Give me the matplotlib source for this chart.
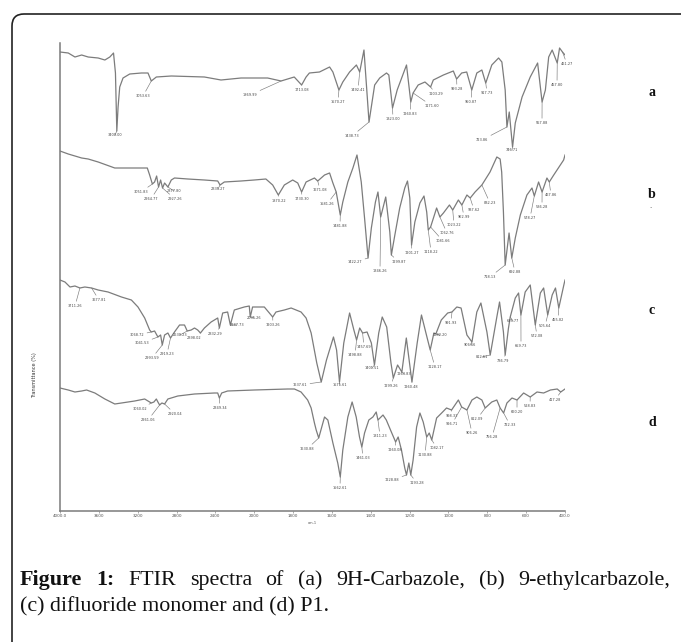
import numpy as np
import matplotlib
matplotlib.use('Agg')
import matplotlib.pyplot as plt
from matplotlib.patches import FancyBboxPatch

# FTIR spectra, wavenumber (cm-1) and transmittance (arbitrary units, stacked)
wn_a = [4000, 3915, 3846, 3777, 3710, 3607, 3538, 3487, 3449, 3429, 3415, 3402, 3385, 3351, 3282, 3162,
        3094, 3060, 3008, 2854, 2513, 2342, 2136, 1931, 1862, 1794, 1756, 1733, 1716, 1664, 1612, 1595,
        1564, 1544, 1509, 1474, 1457, 1435, 1409, 1380, 1354, 1319, 1307, 1288, 1264, 1216, 1194, 1182,
        1156, 1121, 1092, 1078, 1026, 975, 958, 932, 906, 880, 854, 828, 808, 777, 742, 725, 708, 699,
        687, 670, 656, 621, 579, 541, 518, 501, 484, 466, 440, 428, 413, 400]
t_a = [459, 458, 454, 456, 454, 453, 451, 454, 458, 438, 380, 404, 424, 433, 437, 438,
       438, 430, 434, 435, 434, 431, 433, 433, 430, 434, 426, 434, 438, 439, 444, 439,
       421, 429, 439, 446, 439, 461, 389, 426, 433, 438, 436, 403, 421, 446, 409, 418,
       426, 429, 424, 431, 436, 440, 432, 438, 439, 421, 438, 441, 428, 446, 453, 449, 421, 384,
       399, 364, 388, 414, 434, 448, 409, 421, 454, 461, 448, 463, 459, 456]

wn_b = [4000, 3915, 3777, 3710, 3607, 3436, 3367, 3231, 3101, 3077, 3049, 3026, 3005, 2985, 2964, 2944,
        2923, 2889, 2854, 2821, 2684, 2513, 2376, 2352, 2308, 2136, 2000, 1940, 1905, 1876, 1845, 1802,
        1776, 1756, 1733, 1690, 1673, 1638, 1612, 1595, 1578, 1557, 1544, 1518, 1492, 1471, 1449, 1432,
        1414, 1397, 1376, 1363, 1349, 1323, 1302, 1294, 1276, 1251, 1225, 1211, 1199, 1190, 1173, 1147,
        1126, 1112, 1104, 1092, 1061, 1044, 1026, 995, 978, 949, 931, 905, 888, 863, 828, 786, 751, 734,
        726, 717, 708, 688, 674, 656, 630, 596, 570, 558, 536, 518, 493, 481, 458, 407, 400]
t_b = [360, 357, 353, 352, 349, 343, 343, 343, 343, 336, 327, 329, 335, 324, 331, 323,
       328, 324, 331, 333, 332, 331, 330, 326, 329, 330, 331, 332, 326, 316, 326, 331,
       328, 319, 329, 333, 330, 336, 338, 328, 319, 296, 309, 329, 343, 356, 329, 293,
       253, 283, 309, 319, 294, 314, 279, 256, 276, 303, 323, 330, 313, 266, 289, 308,
       315, 299, 281, 284, 303, 294, 298, 306, 301, 311, 306, 316, 313, 319, 326, 339, 354, 352,
       339, 299, 246, 278, 253, 273, 296, 316, 323, 315, 329, 319, 333, 329, 336, 351, 356]

wn_c = [4000, 3949, 3897, 3846, 3795, 3744, 3675, 3607, 3505, 3367, 3265, 3197, 3128, 3077, 3060, 3026,
        2992, 2964, 2947, 2923, 2889, 2862, 2821, 2769, 2718, 2690, 2649, 2615, 2582, 2554, 2513, 2444,
        2376, 2359, 2325, 2274, 2246, 2205, 2103, 2051, 2041, 2017, 1948, 1905, 1888, 1845, 1810, 1759,
        1733, 1707, 1678, 1655, 1628, 1592, 1576, 1561, 1539, 1509, 1487, 1473, 1457, 1442, 1419, 1397,
        1381, 1359, 1341, 1318, 1296, 1284, 1262, 1240, 1217, 1188, 1161, 1139, 1116, 1094, 1075, 1065,
        1037, 1004, 982, 957, 935, 905, 879, 854, 833, 802, 785, 751, 737, 717, 708, 691, 682, 656, 639,
        627, 605, 579, 553, 527, 510, 489, 466, 449, 432, 406, 400]
t_c = [231, 229, 224, 225, 223, 224, 223, 221, 219, 214, 211, 204, 193, 181, 179, 180,
       174, 176, 166, 176, 178, 173, 179, 186, 186, 180, 181, 183, 181, 178, 183, 189,
       193, 183, 198, 199, 186, 201, 204, 205, 194, 204, 204, 194, 199, 201, 203, 199,
       193, 178, 148, 129, 151, 174, 161, 129, 168, 198, 181, 171, 183, 178, 179, 168,
       146, 178, 194, 184, 148, 133, 146, 139, 173, 129, 168, 196, 178, 161, 178, 177,
       191, 198, 199, 204, 203, 176, 169, 199, 208, 179, 156, 194, 209, 179, 156, 183, 194, 213, 218,
       196, 219, 226, 186, 218, 223, 196, 216, 223, 203, 226, 231]

wn_d = [4000, 3915, 3846, 3777, 3726, 3641, 3538, 3436, 3367, 3231, 3128, 3094, 3060, 3033, 3008, 2992,
        2974, 2951, 2923, 2889, 2787, 2615, 2410, 2376, 2359, 2335, 2274, 2000, 1828, 1793, 1759, 1725,
        1707, 1690, 1681, 1668, 1638, 1621, 1595, 1570, 1557, 1544, 1518, 1496, 1475, 1458, 1446, 1432,
        1410, 1389, 1372, 1363, 1337, 1320, 1294, 1272, 1259, 1242, 1225, 1216, 1204, 1194, 1182, 1164,
        1147, 1130, 1112, 1099, 1086, 1061, 1035, 1010, 984, 949, 932, 905, 879, 854, 828, 811, 777, 751,
        734, 716, 699, 673, 647, 613, 579, 544, 510, 475, 440, 422, 400]
t_d = [123, 121, 119, 120, 121, 118, 112, 107, 108, 110, 112, 110, 108, 109, 112, 109,
       106, 108, 107, 112, 115, 117, 118, 118, 113, 118, 120, 121, 122, 122, 119, 111,
       103, 88, 81, 73, 94, 91, 68, 48, 34, 61, 94, 109, 94, 74, 64, 78,
       91, 94, 99, 91, 96, 91, 79, 69, 74, 61, 43, 36, 48, 36, 51, 84,
       98, 89, 74, 78, 71, 93, 98, 103, 101, 111, 104, 101, 111, 114, 111, 103, 109, 111,
       103, 98, 108, 113, 111, 118, 114, 119, 118, 121, 122, 119, 122]

# peak labels: wavenumber of the marked band and its label text
peaks_a = [3415, 3060, 1862, 1756, 1564, 1457, 1409, 1288, 1194, 1182, 1092, 958, 880, 808, 699, 670, 518, 440, 413]
names_a = ['3400.00', '3053.63', '1869.99', '1713.08', '1570.27', '1492.41', '1438.73', '1323.00', '1260.83',
           '1171.60', '1103.29', '993.28', '950.87', '917.73', '723.86', '746.71', '557.88', '457.80', '461.27']
peaks_b = [3049, 2985, 2944, 2889, 2352, 1876, 1756, 1673, 1578, 1557, 1414, 1349, 1294, 1190, 1104, 1092,
           1044, 978, 931, 888, 828, 708, 674, 558, 518, 481]
names_b = ['3051.83', '2964.77', '2927.26', '2877.80', '2335.27', '1870.22', '1730.30', '1671.08', '1581.26',
           '1481.88', '1422.27', '1346.26', '1299.87', '1201.27', '1118.22', '1081.66', '1062.76', '1023.22',
           '962.99', '937.62', '832.23', '718.13', '692.88', '578.27', '536.28', '467.86']
peaks_c = [3795, 3675, 3060, 2992, 2947, 2862, 2690, 2554, 2359, 2246, 2041, 1905, 1655, 1561, 1473, 1442,
           1381, 1284, 1240, 1188, 1094, 1065, 982, 879, 785, 708, 682, 627, 553, 489, 432]
names_c = ['3711.26', '3677.81', '3068.72', '3041.53', '2993.59', '2919.23', '2630.23', '2398.02', '2332.29',
           '2287.73', '2035.26', '1903.26', '1637.61', '1571.61', '1498.88', '1457.69', '1401.51', '1299.26',
           '1263.83', '1260.48', '1128.17', '1082.20', '991.93', '906.66', '812.61', '736.79', '685.77',
           '659.73', '572.08', '505.64', '455.82']
peaks_d = [3060, 2974, 2923, 2359, 1668, 1557, 1446, 1363, 1272, 1216, 1194, 1112, 1086, 984, 932, 905, 811,
           734, 716, 647, 579, 422]
names_d = ['3060.02', '2961.06', '2920.04', '2349.34', '1630.88', '1562.61', '1461.03', '1311.23', '1260.08',
           '1228.88', '1193.28', '1130.88', '1082.17', '998.33', '926.71', '906.26', '812.09', '756.28',
           '722.33', '660.20', '528.83', '417.28']

# where each label text sits (pixels from top-left of the figure)
pos_a = [(115, 135), (143, 96), (250, 95), (302, 90), (338, 102), (358, 90), (352, 136), (393, 119), (410, 114),
         (432, 106), (436, 94), (457, 89), (471, 102), (487, 93), (482, 140), (512, 150), (542, 123), (557, 85),
         (567, 64)]
pos_b = [(141, 192), (151, 199), (175, 199), (174, 191), (218, 189), (279, 201), (302, 199), (320, 190),
         (327, 204), (340, 226), (355, 262), (380, 271), (399, 262), (412, 253), (431, 252), (443, 241),
         (447, 233), (454, 225), (464, 217), (474, 210), (490, 203), (490, 277), (515, 272), (530, 218),
         (542, 207), (551, 195)]
pos_c = [(75, 306), (99, 300), (137, 335), (142, 343), (152, 358), (167, 354), (180, 335), (194, 338),
         (215, 334), (237, 325), (254, 318), (273, 325), (300, 385), (340, 385), (355, 355), (364, 347),
         (372, 368), (391, 386), (404, 374), (411, 387), (435, 367), (440, 335), (451, 323), (470, 345),
         (482, 357), (503, 361), (513, 321), (521, 346), (537, 336), (545, 326), (558, 320)]
pos_d = [(140, 409), (148, 420), (175, 414), (220, 408), (307, 449), (340, 488), (363, 458), (380, 436),
         (395, 450), (392, 480), (417, 483), (425, 455), (437, 448), (452, 416), (452, 424), (472, 433),
         (477, 419), (492, 437), (510, 425), (517, 412), (530, 406), (555, 400)]

spectra = [(wn_a, t_a, peaks_a, names_a, pos_a), (wn_b, t_b, peaks_b, names_b, pos_b),
           (wn_c, t_c, peaks_c, names_c, pos_c), (wn_d, t_d, peaks_d, names_d, pos_d)]
letters = ['a', 'b', 'c', 'd']
letter_y = [93, 195, 311, 422]

tick_vals = [4000, 3600, 3200, 2800, 2400, 2000, 1800, 1600, 1400, 1200, 1000, 800, 600, 400]
tick_text = ['4000.0', '3600', '3200', '2800', '2400', '2000', '1800', '1600', '1400', '1200', '1000',
             '800', '600', '400.0']


# instrument axis: half scale above 2000 cm-1
def fwd(w):
    w = np.asarray(w, dtype=float)
    return np.where(w >= 2000, w / 2 + 1000, w)


def inv(p):
    p = np.asarray(p, dtype=float)
    return np.where(p >= 2000, (p - 1000) * 2, p)


W, H = 681, 642
fig = plt.figure(figsize=(W / 100, H / 100), dpi=100)
fig.patch.set_facecolor('white')

box = FancyBboxPatch((12, -60), 760, H - 14 + 60, boxstyle='round,pad=0,rounding_size=12',
                     transform=None, fill=False, edgecolor='#222222', linewidth=1.2)
fig.add_artist(box)

ax = fig.add_axes([60 / W, (H - 511) / H, (565 - 60) / W, (511 - 43) / H])
ax.set_xscale('function', functions=(fwd, inv))
ax.set_xlim(4000, 400)
ax.set_ylim(0, 468)
for s in ['top', 'right']:
    ax.spines[s].set_visible(False)
for s in ['left', 'bottom']:
    ax.spines[s].set_color('#7a7a7a')
    ax.spines[s].set_linewidth(1.1)
ax.set_yticks([])
ax.set_xticks(tick_vals)
ax.set_xticklabels(tick_text)
ax.tick_params(axis='x', length=1.5, width=0.5, color='#888888', labelsize=3, labelcolor='#555555', pad=1)
ax.text(1700, -10, 'cm-1', ha='center', va='top', fontsize=2.6, color='#555555', clip_on=False)

for (wn, tt, pk, nm, pos) in spectra:
    ax.plot(wn, tt, color='#7c7c7c', lw=0.9)
    for w0, label, (px, py) in zip(pk, nm, pos):
        y0 = np.interp(w0, wn[::-1], tt[::-1])
        ax.annotate(label, xy=(w0, y0), xytext=(px, H - py), textcoords='figure pixels',
                    ha='center', va='center', fontsize=2.5, color='#444444',
                    arrowprops=dict(arrowstyle='-', color='#7a7a7a', lw=0.45, shrinkA=0, shrinkB=0))

for lt, ly in zip(letters, letter_y):
    fig.text(652 / W, 1 - ly / H, lt, ha='center', va='center', fontsize=10, fontweight='bold',
             family='Liberation Serif', color='#111111')
fig.text(650 / W, 1 - 206 / H, '.', ha='center', va='center', fontsize=5, color='#444444')

fig.text(35 / W, 1 - 375 / H, 'Transmittance (%)', rotation=90, ha='center', va='center',
         fontsize=3.6, color='#333333')

# caption, first line justified
fig.canvas.draw()
r = fig.canvas.get_renderer()
tokens = [('Figure', 'bold'), ('1:', 'bold'), ('FTIR', 'normal'), ('spectra', 'normal'), ('of', 'normal'),
          ('(a)', 'normal'), ('9H-Carbazole,', 'normal'), ('(b)', 'normal'), ('9-ethylcarbazole,', 'normal')]
cap_kw = dict(fontsize=15.8, family='Liberation Serif', color='#111111', va='baseline', ha='left')
items = []
for word, wt in tokens:
    t = fig.text(0, 1 - 585 / H, word, fontweight=wt, **cap_kw)
    items.append(t)
widths = [t.get_window_extent(r).width for t in items]
left, right = 20, 670
gap = (right - left - sum(widths)) / (len(items) - 1)
x = left
for t, w in zip(items, widths):
    t.set_x(x / W)
    x += w + gap
fig.text(20 / W, 1 - 611 / H, '(c) difluoride monomer and (d) P1.', **cap_kw)

fig.savefig('out.png', dpi=100)
